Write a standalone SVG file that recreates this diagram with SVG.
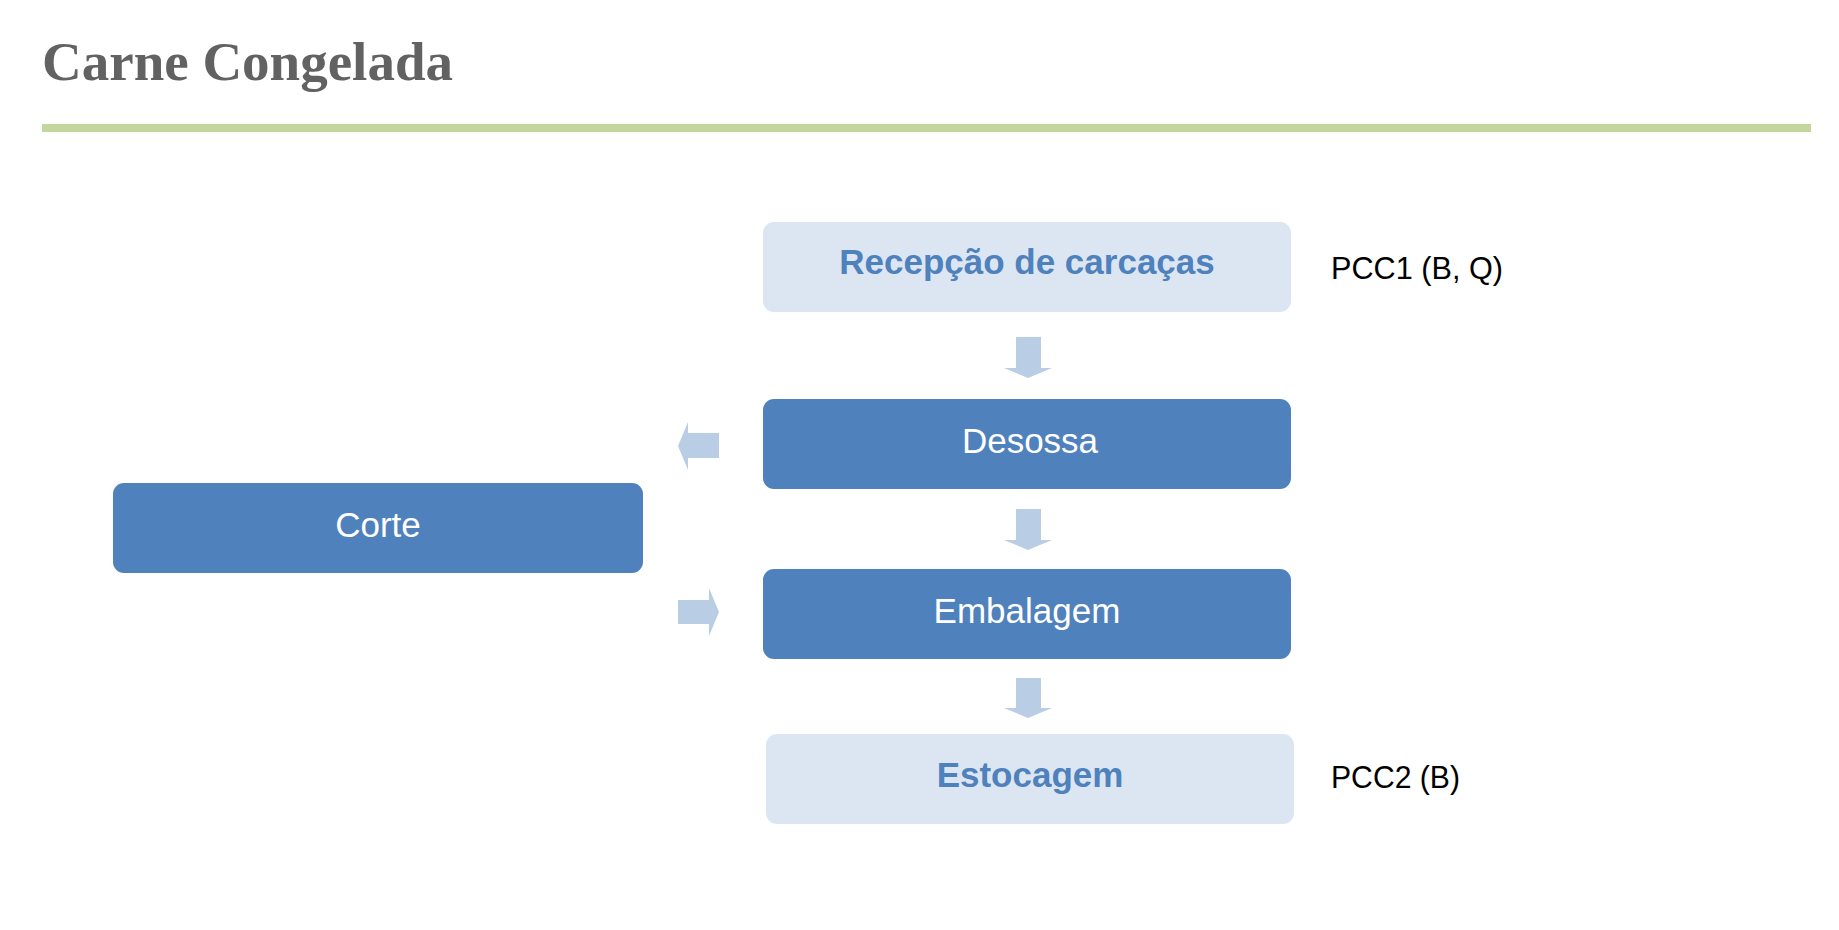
<svg xmlns="http://www.w3.org/2000/svg" width="1839" height="930" viewBox="0 0 1839 930">
<style>
.title{font-family:"Liberation Serif","Times New Roman",serif;font-weight:bold;font-size:55px;fill:#626262}
.light rect{fill:#dce6f2}
.dark rect{fill:#4f81bd}
.light text{font-family:"Liberation Sans",Arial,sans-serif;font-weight:bold;font-size:35px;fill:#4f81bd;text-anchor:middle}
.dark text{font-family:"Liberation Sans",Arial,sans-serif;font-size:35px;fill:#ffffff;text-anchor:middle}
.note{font-family:"Liberation Sans",Arial,sans-serif;font-size:31px;fill:#000000}
.arrow{fill:#b9cde5}
</style>
<rect width="1839" height="930" fill="#ffffff"/>
<text class="title" x="42" y="80">Carne Congelada</text>
<rect x="42" y="124" width="1769" height="8" fill="#c3d69b"/>

<g id="connectors">
<polygon class="arrow" points="1016,337 1041,337 1041,368 1052,368 1028,378 1004,368 1016,368"/>
<polygon class="arrow" points="1016,509 1041,509 1041,540 1052,540 1028,550 1004,540 1016,540"/>
<polygon class="arrow" points="1016,678 1041,678 1041,708 1052,708 1028,718 1004,708 1016,708"/>
<polygon class="arrow" points="719,433 719,458 688,458 688,470 678,446 688,422 688,433"/>
<polygon class="arrow" points="678,600 709,600 709,588 719,612 709,636 709,624 678,624"/>
</g>

<g id="recepcao" class="light">
<rect x="763" y="222" width="528" height="90" rx="11"/>
<text x="1027" y="274">Recepção de carcaças</text>
</g>
<g id="desossa" class="dark">
<rect x="763" y="399" width="528" height="90" rx="11"/>
<text x="1030" y="453">Desossa</text>
</g>
<g id="corte" class="dark">
<rect x="113" y="483" width="530" height="90" rx="11"/>
<text x="378" y="537">Corte</text>
</g>
<g id="embalagem" class="dark">
<rect x="763" y="569" width="528" height="90" rx="11"/>
<text x="1027" y="623">Embalagem</text>
</g>
<g id="estocagem" class="light">
<rect x="766" y="734" width="528" height="90" rx="11"/>
<text x="1030" y="787">Estocagem</text>
</g>
<g id="pcc1">
<text class="note" x="1331" y="279" textLength="172" lengthAdjust="spacingAndGlyphs">PCC1 (B, Q)</text>
</g>
<g id="pcc2">
<text class="note" x="1331" y="788" textLength="129" lengthAdjust="spacingAndGlyphs">PCC2 (B)</text>
</g>
</svg>
